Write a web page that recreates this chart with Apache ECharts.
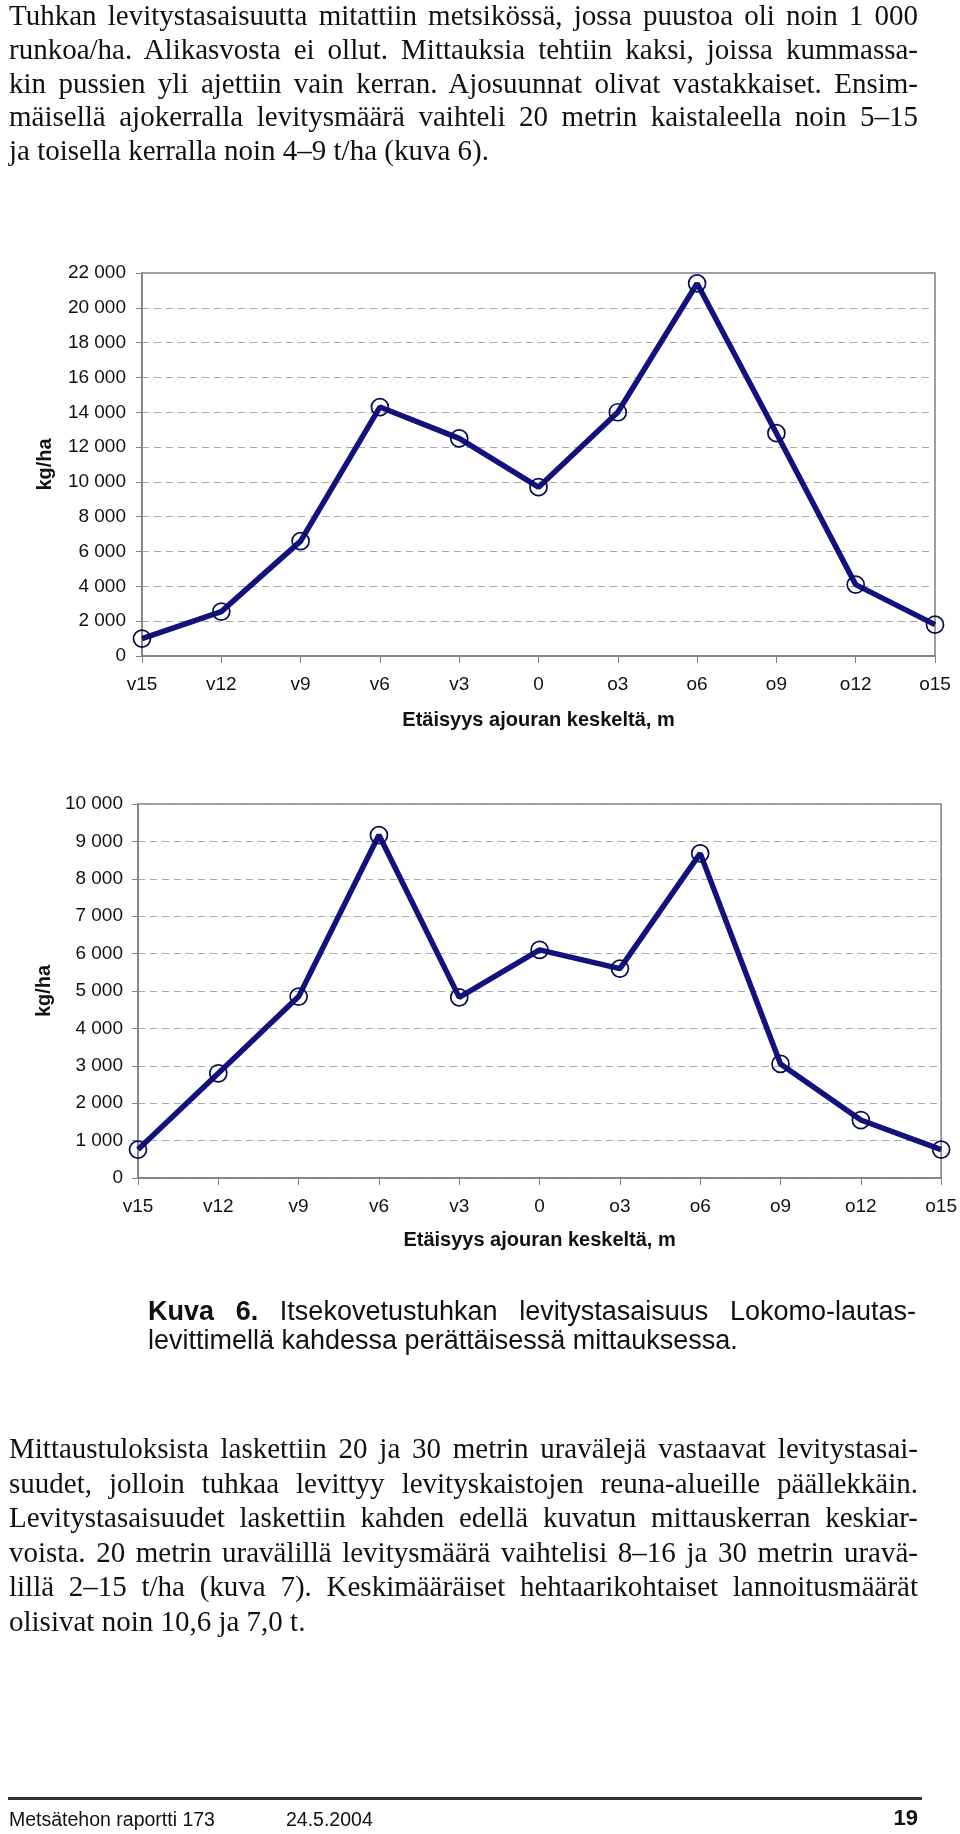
<!DOCTYPE html>
<html>
<head>
<meta charset="utf-8">
<script src="https://cdn.jsdelivr.net/npm/echarts@6/dist/echarts.min.js"></script>
<style>
  html, body { margin:0; padding:0; background:#fff; }
  #page { position:relative; width:960px; height:1834px; overflow:hidden; }
  #chart { position:absolute; left:0; top:0; width:960px; height:1834px; }
  .t { position:absolute; white-space:nowrap; color:#111; }
  .serif { font-family:"Liberation Serif","Times New Roman",serif; font-size:29px; line-height:34px; left:9px; }
  .cap { font-family:"Liberation Sans",Arial,sans-serif; font-size:27px; line-height:30px; left:148px; }
  .foot { font-family:"Liberation Sans",Arial,sans-serif; font-size:19.5px; line-height:24px; }
</style>
</head>
<body>
<div id="page">
  <div id="chart"></div>
  <div id="text"></div>
  <div style="position:absolute;left:8px;top:1797px;width:914px;height:2.5px;background:#333;"></div>
  <div class="t foot" style="left:9px;top:1807px;">Metsätehon raportti 173</div>
  <div class="t foot" style="left:286px;top:1807px;">24.5.2004</div>
  <div class="t foot" style="right:42px;top:1806px;font-weight:bold;font-size:22px;">19</div>
</div>
<script>
// ---- data ----
const categories = ['v15','v12','v9','v6','v3','0','o3','o6','o9','o12','o15'];
const run1 = [1000, 2550, 6600, 14300, 12500, 9700, 14000, 21400, 12800, 4100, 1800];
const run2 = [760, 2800, 4850, 9170, 4830, 6100, 5600, 8680, 3050, 1550, 760];
const yName = 'kg/ha';
const xName = 'Etäisyys ajouran keskeltä, m';

const para1 = [
  'Tuhkan levitystasaisuutta mitattiin metsikössä, jossa puustoa oli noin 1 000',
  'runkoa/ha. Alikasvosta ei ollut. Mittauksia tehtiin kaksi, joissa kummassa-',
  'kin pussien yli ajettiin vain kerran. Ajosuunnat olivat vastakkaiset. Ensim-',
  'mäisellä ajokerralla levitysmäärä vaihteli 20 metrin kaistaleella noin 5–15',
  'ja toisella kerralla noin 4–9 t/ha (kuva 6).'
];
const para2 = [
  'Mittaustuloksista laskettiin 20 ja 30 metrin uravälejä vastaavat levitystasai-',
  'suudet, jolloin tuhkaa levittyy levityskaistojen reuna-alueille päällekkäin.',
  'Levitystasaisuudet laskettiin kahden edellä kuvatun mittauskerran keskiar-',
  'voista. 20 metrin uravälillä levitysmäärä vaihtelisi 8–16 ja 30 metrin uravä-',
  'lillä 2–15 t/ha (kuva 7). Keskimääräiset hehtaarikohtaiset lannoitusmäärät',
  'olisivat noin 10,6 ja 7,0 t.'
];
const captionBold = 'Kuva 6.';
const captionLines = [' Itsekovetustuhkan levitystasaisuus Lokomo-lautas-', 'levittimellä kahdessa perättäisessä mittauksessa.'];

// ---- text layout ----
const textHost = document.getElementById('text');
function justify(d, text, target) {
  const w = d.getBoundingClientRect().width;
  const spaces = (text.match(/ /g) || []).length;
  if (spaces > 0) d.style.wordSpacing = ((target - w) / spaces) + 'px';
}
function addLines(lines, firstCenter, step, justifyAllButLast) {
  lines.forEach((ln, i) => {
    const d = document.createElement('div');
    d.className = 't serif';
    d.textContent = ln;
    d.style.top = (firstCenter + i * step - 17) + 'px';
    textHost.appendChild(d);
    if (justifyAllButLast && i < lines.length - 1) justify(d, ln, 909);
  });
}
addLines(para1, 15, 33.8, true);
addLines(para2, 1448, 34.5, true);

(function caption(){
  const c1 = document.createElement('div');
  c1.className = 't cap';
  c1.style.top = (1311 - 15) + 'px';
  const b = document.createElement('b'); b.textContent = captionBold;
  c1.appendChild(b);
  c1.appendChild(document.createTextNode(captionLines[0]));
  textHost.appendChild(c1);
  justify(c1, captionBold + captionLines[0], 768);
  const c2 = document.createElement('div');
  c2.className = 't cap';
  c2.style.top = (1340 - 15) + 'px';
  c2.textContent = captionLines[1];
  textHost.appendChild(c2);
})();

// ---- chart ----
const fmt = v => String(v).replace(/\B(?=(\d{3})+(?!\d))/g, ' ');
const FONT = '"Liberation Sans", Arial, sans-serif';
const lineColor = '#12127e';
const gray = '#7f7f7f';

function xAxis(gridIndex, gap) {
  return {
    type: 'category', gridIndex, data: categories, boundaryGap: false,
    axisLine: { lineStyle: { color: gray, width: 1.5 } },
    axisTick: { show: true, length: 7, lineStyle: { color: gray, width: 1 } },
    axisLabel: { color: '#111', fontSize: 19, fontFamily: FONT, margin: 19 },
    splitLine: { show: false },
    name: xName, nameLocation: 'middle', nameGap: gap,
    nameTextStyle: { color: '#111', fontSize: 20, fontWeight: 'bold', fontFamily: FONT }
  };
}
function yAxis(gridIndex, max, interval, gap, margin) {
  return {
    type: 'value', gridIndex, min: 0, max, interval,
    axisLine: { show: true, lineStyle: { color: gray, width: 1.5 } },
    axisTick: { show: true, length: 6, lineStyle: { color: gray, width: 1 } },
    axisLabel: { color: '#111', fontSize: 19, fontFamily: FONT, margin, formatter: fmt },
    splitLine: { show: true, lineStyle: { color: '#a8a8a8', width: 1.2, type: [7, 5] } },
    name: yName, nameLocation: 'middle', nameGap: gap, nameRotate: 90,
    nameTextStyle: { color: '#111', fontSize: 20, fontWeight: 'bold', fontFamily: FONT }
  };
}
function series(idx, data) {
  return {
    type: 'line', xAxisIndex: idx, yAxisIndex: idx, data,
    symbol: 'circle', symbolSize: 17, showAllSymbol: true,
    lineStyle: { color: lineColor, width: 5.5 },
    itemStyle: { color: 'rgba(0,0,0,0)', borderColor: '#0a0a55', borderWidth: 1.7 },
    emphasis: { disabled: true }, z: 3
  };
}

const chart = echarts.init(document.getElementById('chart'), null, { renderer: 'canvas' });
chart.setOption({
  animation: false,
  backgroundColor: 'transparent',
  grid: [
    { left: 142, top: 273, width: 793, height: 383, show: true, borderColor: gray, borderWidth: 1.5, containLabel: false },
    { left: 138, top: 804, width: 806, height: 374, show: true, borderColor: gray, borderWidth: 1.5, containLabel: false }
  ],
  xAxis: [xAxis(0, 54), xAxis(1, 52)],
  yAxis: [yAxis(0, 22000, 2000, 87, 16), yAxis(1, 10000, 1000, 80, 15)],
  series: [series(0, run1), series(1, run2)]
});
</script>
</body>
</html>
